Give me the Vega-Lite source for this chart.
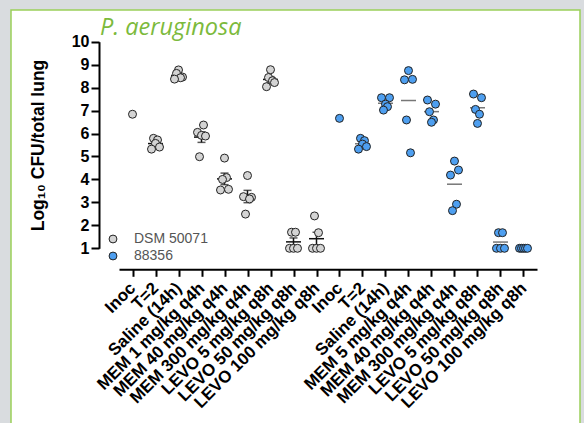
{
  "$schema": "https://vega.github.io/schema/vega-lite/v6.json",
  "autosize": "none",
  "width": 569,
  "height": 420,
  "padding": {"left": 11, "top": 10, "right": 4, "bottom": 0},
  "background": "#d9dcdf",
  "config": {
    "view": {"fill": "white", "stroke": "#9ad05a", "strokeWidth": 1.5},
    "font": "Liberation Sans"
  },
  "title": {
    "text": "P. aeruginosa",
    "anchor": "start",
    "frame": "group",
    "font": "Open Sans",
    "fontStyle": "italic",
    "fontWeight": "normal",
    "fontSize": 23.5,
    "color": "#7cba3c",
    "offset": -26,
    "dy": 22,
    "baseline": "alphabetic",
    "dx": 89
  },
  "data": {
    "values": [
      {"strain": "DSM 50071", "group": "DSM 50071|Inoc", "value": 6.84, "mouse": 3},
      {"strain": "DSM 50071", "group": "DSM 50071|T=2", "value": 5.79, "mouse": 2},
      {"strain": "DSM 50071", "group": "DSM 50071|T=2", "value": 5.72, "mouse": 4},
      {"strain": "DSM 50071", "group": "DSM 50071|T=2", "value": 5.57, "mouse": 3},
      {"strain": "DSM 50071", "group": "DSM 50071|T=2", "value": 5.41, "mouse": 5},
      {"strain": "DSM 50071", "group": "DSM 50071|T=2", "value": 5.32, "mouse": 1},
      {"strain": "DSM 50071", "group": "DSM 50071|Saline (14h)", "value": 8.77, "mouse": 3},
      {"strain": "DSM 50071", "group": "DSM 50071|Saline (14h)", "value": 8.62, "mouse": 2},
      {"strain": "DSM 50071", "group": "DSM 50071|Saline (14h)", "value": 8.46, "mouse": 5},
      {"strain": "DSM 50071", "group": "DSM 50071|Saline (14h)", "value": 8.43, "mouse": 4},
      {"strain": "DSM 50071", "group": "DSM 50071|Saline (14h)", "value": 8.37, "mouse": 1},
      {"strain": "DSM 50071", "group": "DSM 50071|MEM 1 mg/kg q4h", "value": 6.37, "mouse": 4},
      {"strain": "DSM 50071", "group": "DSM 50071|MEM 1 mg/kg q4h", "value": 6.05, "mouse": 1},
      {"strain": "DSM 50071", "group": "DSM 50071|MEM 1 mg/kg q4h", "value": 5.92, "mouse": 3},
      {"strain": "DSM 50071", "group": "DSM 50071|MEM 1 mg/kg q4h", "value": 5.89, "mouse": 5},
      {"strain": "DSM 50071", "group": "DSM 50071|MEM 1 mg/kg q4h", "value": 4.99, "mouse": 2},
      {"strain": "DSM 50071", "group": "DSM 50071|MEM 40 mg/kg q4h", "value": 4.93, "mouse": 3},
      {"strain": "DSM 50071", "group": "DSM 50071|MEM 40 mg/kg q4h", "value": 4.08, "mouse": 4},
      {"strain": "DSM 50071", "group": "DSM 50071|MEM 40 mg/kg q4h", "value": 4.0, "mouse": 2},
      {"strain": "DSM 50071", "group": "DSM 50071|MEM 40 mg/kg q4h", "value": 3.57, "mouse": 5},
      {"strain": "DSM 50071", "group": "DSM 50071|MEM 40 mg/kg q4h", "value": 3.54, "mouse": 1},
      {"strain": "DSM 50071", "group": "DSM 50071|MEM 300 mg/kg q4h", "value": 4.17, "mouse": 3},
      {"strain": "DSM 50071", "group": "DSM 50071|MEM 300 mg/kg q4h", "value": 3.25, "mouse": 1},
      {"strain": "DSM 50071", "group": "DSM 50071|MEM 300 mg/kg q4h", "value": 3.22, "mouse": 5},
      {"strain": "DSM 50071", "group": "DSM 50071|MEM 300 mg/kg q4h", "value": 3.15, "mouse": 4},
      {"strain": "DSM 50071", "group": "DSM 50071|MEM 300 mg/kg q4h", "value": 2.49, "mouse": 2},
      {"strain": "DSM 50071", "group": "DSM 50071|LEVO 5 mg/kg q8h", "value": 8.78, "mouse": 3},
      {"strain": "DSM 50071", "group": "DSM 50071|LEVO 5 mg/kg q8h", "value": 8.44, "mouse": 2},
      {"strain": "DSM 50071", "group": "DSM 50071|LEVO 5 mg/kg q8h", "value": 8.3, "mouse": 4},
      {"strain": "DSM 50071", "group": "DSM 50071|LEVO 5 mg/kg q8h", "value": 8.22, "mouse": 5},
      {"strain": "DSM 50071", "group": "DSM 50071|LEVO 5 mg/kg q8h", "value": 8.04, "mouse": 1},
      {"strain": "DSM 50071", "group": "DSM 50071|LEVO 50 mg/kg q8h", "value": 1.7, "mouse": 2},
      {"strain": "DSM 50071", "group": "DSM 50071|LEVO 50 mg/kg q8h", "value": 1.7, "mouse": 4},
      {"strain": "DSM 50071", "group": "DSM 50071|LEVO 50 mg/kg q8h", "value": 1.0, "mouse": 1},
      {"strain": "DSM 50071", "group": "DSM 50071|LEVO 50 mg/kg q8h", "value": 1.0, "mouse": 3},
      {"strain": "DSM 50071", "group": "DSM 50071|LEVO 50 mg/kg q8h", "value": 1.0, "mouse": 5},
      {"strain": "DSM 50071", "group": "DSM 50071|LEVO 100 mg/kg q8h", "value": 2.41, "mouse": 2},
      {"strain": "DSM 50071", "group": "DSM 50071|LEVO 100 mg/kg q8h", "value": 1.68, "mouse": 4},
      {"strain": "DSM 50071", "group": "DSM 50071|LEVO 100 mg/kg q8h", "value": 1.0, "mouse": 1},
      {"strain": "DSM 50071", "group": "DSM 50071|LEVO 100 mg/kg q8h", "value": 1.0, "mouse": 3},
      {"strain": "DSM 50071", "group": "DSM 50071|LEVO 100 mg/kg q8h", "value": 1.0, "mouse": 5},
      {"strain": "88356", "group": "88356|Inoc", "value": 6.66, "mouse": 3},
      {"strain": "88356", "group": "88356|T=2", "value": 5.79, "mouse": 2},
      {"strain": "88356", "group": "88356|T=2", "value": 5.69, "mouse": 4},
      {"strain": "88356", "group": "88356|T=2", "value": 5.54, "mouse": 3},
      {"strain": "88356", "group": "88356|T=2", "value": 5.43, "mouse": 5},
      {"strain": "88356", "group": "88356|T=2", "value": 5.32, "mouse": 1},
      {"strain": "88356", "group": "88356|Saline (14h)", "value": 7.56, "mouse": 1},
      {"strain": "88356", "group": "88356|Saline (14h)", "value": 7.56, "mouse": 5},
      {"strain": "88356", "group": "88356|Saline (14h)", "value": 7.28, "mouse": 3},
      {"strain": "88356", "group": "88356|Saline (14h)", "value": 7.17, "mouse": 4},
      {"strain": "88356", "group": "88356|Saline (14h)", "value": 7.02, "mouse": 2},
      {"strain": "88356", "group": "88356|MEM 5 mg/kg q4h", "value": 8.74, "mouse": 3},
      {"strain": "88356", "group": "88356|MEM 5 mg/kg q4h", "value": 8.34, "mouse": 1},
      {"strain": "88356", "group": "88356|MEM 5 mg/kg q4h", "value": 8.36, "mouse": 5},
      {"strain": "88356", "group": "88356|MEM 5 mg/kg q4h", "value": 6.59, "mouse": 2},
      {"strain": "88356", "group": "88356|MEM 5 mg/kg q4h", "value": 5.16, "mouse": 4},
      {"strain": "88356", "group": "88356|MEM 40 mg/kg q4h", "value": 7.46, "mouse": 1},
      {"strain": "88356", "group": "88356|MEM 40 mg/kg q4h", "value": 7.28, "mouse": 5},
      {"strain": "88356", "group": "88356|MEM 40 mg/kg q4h", "value": 6.95, "mouse": 2},
      {"strain": "88356", "group": "88356|MEM 40 mg/kg q4h", "value": 6.59, "mouse": 4},
      {"strain": "88356", "group": "88356|MEM 40 mg/kg q4h", "value": 6.49, "mouse": 3},
      {"strain": "88356", "group": "88356|MEM 300 mg/kg q4h", "value": 4.8, "mouse": 3},
      {"strain": "88356", "group": "88356|MEM 300 mg/kg q4h", "value": 4.41, "mouse": 5},
      {"strain": "88356", "group": "88356|MEM 300 mg/kg q4h", "value": 4.19, "mouse": 1},
      {"strain": "88356", "group": "88356|MEM 300 mg/kg q4h", "value": 2.92, "mouse": 4},
      {"strain": "88356", "group": "88356|MEM 300 mg/kg q4h", "value": 2.64, "mouse": 2},
      {"strain": "88356", "group": "88356|LEVO 5 mg/kg q8h", "value": 7.72, "mouse": 1},
      {"strain": "88356", "group": "88356|LEVO 5 mg/kg q8h", "value": 7.56, "mouse": 5},
      {"strain": "88356", "group": "88356|LEVO 5 mg/kg q8h", "value": 7.05, "mouse": 2},
      {"strain": "88356", "group": "88356|LEVO 5 mg/kg q8h", "value": 6.84, "mouse": 4},
      {"strain": "88356", "group": "88356|LEVO 5 mg/kg q8h", "value": 6.44, "mouse": 3},
      {"strain": "88356", "group": "88356|LEVO 50 mg/kg q8h", "value": 1.68, "mouse": 2},
      {"strain": "88356", "group": "88356|LEVO 50 mg/kg q8h", "value": 1.68, "mouse": 4},
      {"strain": "88356", "group": "88356|LEVO 50 mg/kg q8h", "value": 1.0, "mouse": 1},
      {"strain": "88356", "group": "88356|LEVO 50 mg/kg q8h", "value": 1.0, "mouse": 3},
      {"strain": "88356", "group": "88356|LEVO 50 mg/kg q8h", "value": 1.0, "mouse": 5},
      {"strain": "88356", "group": "88356|LEVO 100 mg/kg q8h", "value": 1.0, "mouse": 1},
      {"strain": "88356", "group": "88356|LEVO 100 mg/kg q8h", "value": 1.0, "mouse": 2},
      {"strain": "88356", "group": "88356|LEVO 100 mg/kg q8h", "value": 1.0, "mouse": 3},
      {"strain": "88356", "group": "88356|LEVO 100 mg/kg q8h", "value": 1.0, "mouse": 4},
      {"strain": "88356", "group": "88356|LEVO 100 mg/kg q8h", "value": 1.0, "mouse": 5}
    ]
  },
  "encoding": {
    "x": {
      "field": "group",
      "type": "nominal",
      "sort": null,
      "scale": {
        "type": "point",
        "domain": [
          "DSM 50071|Inoc", "DSM 50071|T=2", "DSM 50071|Saline (14h)", "DSM 50071|MEM 1 mg/kg q4h",
          "DSM 50071|MEM 40 mg/kg q4h", "DSM 50071|MEM 300 mg/kg q4h", "DSM 50071|LEVO 5 mg/kg q8h",
          "DSM 50071|LEVO 50 mg/kg q8h", "DSM 50071|LEVO 100 mg/kg q8h",
          "88356|Inoc", "88356|T=2", "88356|Saline (14h)", "88356|MEM 5 mg/kg q4h",
          "88356|MEM 40 mg/kg q4h", "88356|MEM 300 mg/kg q4h", "88356|LEVO 5 mg/kg q8h",
          "88356|LEVO 50 mg/kg q8h", "88356|LEVO 100 mg/kg q8h"
        ],
        "range": [108, 526],
        "padding": 0.587
      },
      "axis": {
        "title": null,
        "offset": -160.7,
        "labelExpr": "split(datum.label, '|')[1]",
        "domainColor": "black",
        "domainWidth": 2,
        "tickColor": "black",
        "tickWidth": 2,
        "tickSize": 7,
        "labelAngle": -45,
        "labelAlign": "right",
        "labelBaseline": "middle",
        "labelFont": "Liberation Sans",
        "labelFontSize": 17,
        "labelFontWeight": "bold",
        "labelColor": "black",
        "labelPadding": 9,
        "labelLimit": 400,
        "labelOverlap": false
      }
    }
  },
  "layer": [
    {
      "transform": [{"filter": "datum.strain === 'DSM 50071' && indexof(datum.group, 'Inoc') < 0"}],
      "mark": {"type": "errorbar", "extent": "stderr", "thickness": 1.5, "color": "#111111", "ticks": {"size": 8, "thickness": 1.5}},
      "encoding": {
        "y": {"field": "value", "type": "quantitative", "axis": {"title": "Log₁₀ CFU/total lung"}}
      }
    },
    {
      "transform": [{"filter": "indexof(datum.group, 'Inoc') < 0"}],
      "mark": {"type": "tick", "size": 15, "thickness": 1.5},
      "encoding": {
        "y": {"aggregate": "mean", "field": "value", "type": "quantitative", "axis": {"title": "Log₁₀ CFU/total lung"}},
        "detail": {"field": "strain", "type": "nominal"},
        "color": {"condition": {"test": "datum.strain === '88356'", "value": "#777777"}, "value": "#111111"}
      }
    },
    {
      "mark": {"type": "point", "shape": "circle", "filled": true, "size": 64, "stroke": "#222222", "strokeWidth": 1, "opacity": 1},
      "encoding": {
        "y": {
          "field": "value",
          "type": "quantitative",
          "scale": {"domain": [1, 10], "range": [238.3, 31.7], "nice": false, "zero": false},
          "axis": {
            "title": "Log₁₀ CFU/total lung",
            "offset": -88,
            "values": [1, 2, 3, 4, 5, 6, 7, 8, 9, 10],
            "grid": false,
            "domainColor": "black",
            "domainWidth": 2,
            "tickColor": "black",
            "tickWidth": 2,
            "tickSize": 8,
            "labelFont": "Liberation Sans",
            "labelFontSize": 16,
            "labelFontWeight": "bold",
            "labelColor": "black",
            "labelPadding": 2,
            "titleFont": "Liberation Sans",
            "titleFontSize": 17.5,
            "titleFontWeight": "bold",
            "titleColor": "black",
            "titlePadding": 24
          }
        },
        "xOffset": {"field": "mouse", "type": "ordinal", "scale": {"type": "point", "range": [-5, 5]}},
        "fill": {
          "field": "strain",
          "type": "nominal",
          "scale": {"domain": ["DSM 50071", "88356"], "range": ["#d4d4d4", "#4e9ff0"]},
          "legend": {
            "title": null,
            "orient": "none",
            "legendX": 95,
            "legendY": 222,
            "padding": 0,
            "labelFont": "Liberation Sans",
            "labelFontSize": 14,
            "labelColor": "#555555",
            "labelOffset": 14,
            "rowPadding": 3,
            "symbolSize": 62,
            "symbolStrokeColor": "#222222",
            "symbolStrokeWidth": 1
          }
        }
      }
    }
  ]
}
